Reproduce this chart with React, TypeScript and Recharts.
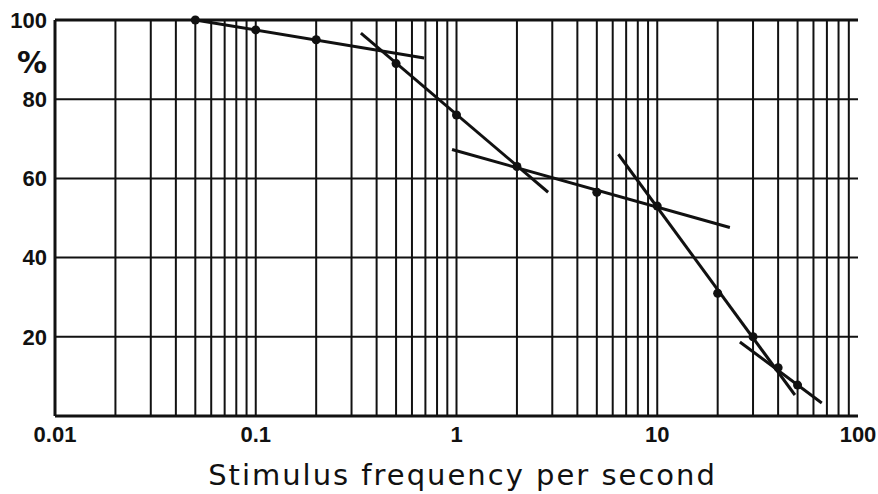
import { ComposedChart, XAxis, YAxis, CartesianGrid, Scatter, Line, ReferenceLine, Label } from 'recharts';

const xTicks = [0.01, 0.1, 1, 10, 100];
const yTicks = [0, 20, 40, 60, 80, 100];
const decades = [0.01, 0.1, 1, 10];
const multipliers = [1, 2, 3, 4, 5, 6, 7, 8, 9];

// measured points (frequency per second, percent)
const measured = [
  { f: 0.05, pct: 100 },
  { f: 0.1, pct: 97.5 },
  { f: 0.2, pct: 95 },
  { f: 0.5, pct: 89 },
  { f: 1, pct: 76 },
  { f: 2, pct: 63 },
  { f: 5, pct: 56.5 },
  { f: 10, pct: 53 },
  { f: 20, pct: 31 },
  { f: 30, pct: 20 },
  { f: 40, pct: 12.2 },
  { f: 50, pct: 7.8 },
];

// hand fitted straight segments
const fitA = [{ f: 0.05, pct: 100 }, { f: 0.69, pct: 90.4 }];
const fitB = [{ f: 0.334, pct: 96.7 }, { f: 2.86, pct: 56.5 }];
const fitC = [{ f: 0.95, pct: 67.3 }, { f: 23, pct: 47.6 }];
const fitD = [{ f: 6.4, pct: 66.1 }, { f: 48.5, pct: 5.3 }];
const fitE = [{ f: 25.8, pct: 18.7 }, { f: 66, pct: 3.3 }];
const fits = [fitA, fitB, fitC, fitD, fitE];

const gridX = decades.flatMap((d) => multipliers.map((m) => +(d * m).toPrecision(3))).filter((v) => v > 0.01);

const ink = '#111';
const tickFont = { fill: ink, fontSize: 22, fontWeight: 700, fontFamily: 'Liberation Sans' };

const fmt = (v: number) => String(v);

export default function App() {
  return (
    <div style={{ position: 'absolute', left: 0, top: 0, background: '#fff' }}>
      <ComposedChart width={878} height={494} margin={{ top: 20, right: 20, left: 0, bottom: 0 }}>
        <CartesianGrid vertical={false} stroke={ink} strokeWidth={2} strokeOpacity={1} />
        <XAxis
          dataKey="f"
          type="number"
          scale="log"
          domain={[0.01, 100]}
          ticks={xTicks}
          tickFormatter={fmt}
          allowDataOverflow
          height={78}
          axisLine={false}
          tickLine={false}
          tick={tickFont}
          tickMargin={4}
        >
          <Label
            content={({ viewBox }: any) => (
              <text
                x={viewBox.x + viewBox.width / 2 + 6}
                y={viewBox.y + 69}
                textAnchor="middle"
                fill={ink}
                fontSize={29}
                letterSpacing={2}
                fontFamily="DejaVu Sans"
              >
                Stimulus frequency per second
              </text>
            )}
          />
        </XAxis>
        <YAxis
          dataKey="pct"
          type="number"
          domain={[0, 100]}
          ticks={yTicks}
          tickFormatter={(v: number) => (v === 0 ? '' : String(v))}
          width={55}
          axisLine={false}
          tickLine={false}
          tick={tickFont}
          tickMargin={2}
        >
          <Label
            content={({ viewBox }: any) => (
              <text
                x={viewBox.x + viewBox.width - 8}
                y={viewBox.y + 53}
                textAnchor="end"
                fill={ink}
                fontSize={30}
                fontWeight={700}
                fontFamily="DejaVu Sans"
              >
                %
              </text>
            )}
          />
        </YAxis>
        {gridX.map((v) => (
          <ReferenceLine key={v} x={v} stroke={ink} strokeWidth={v === 100 ? 3 : 2} />
        ))}
        <ReferenceLine x={0.01} stroke={ink} strokeWidth={3} />
        <ReferenceLine y={0} stroke={ink} strokeWidth={3} />
        <ReferenceLine y={100} stroke={ink} strokeWidth={3} />
        {fits.map((seg, i) => (
          <Line
            key={i}
            data={seg}
            dataKey="pct"
            type="linear"
            stroke={ink}
            strokeWidth={3}
            dot={false}
            activeDot={false}
            isAnimationActive={false}
          />
        ))}
        <Scatter data={measured} dataKey="pct" fill={ink} isAnimationActive={false} shape={(p: any) => <circle cx={p.cx} cy={p.cy} r={4.5} fill={ink} />} />
      </ComposedChart>
    </div>
  );
}
